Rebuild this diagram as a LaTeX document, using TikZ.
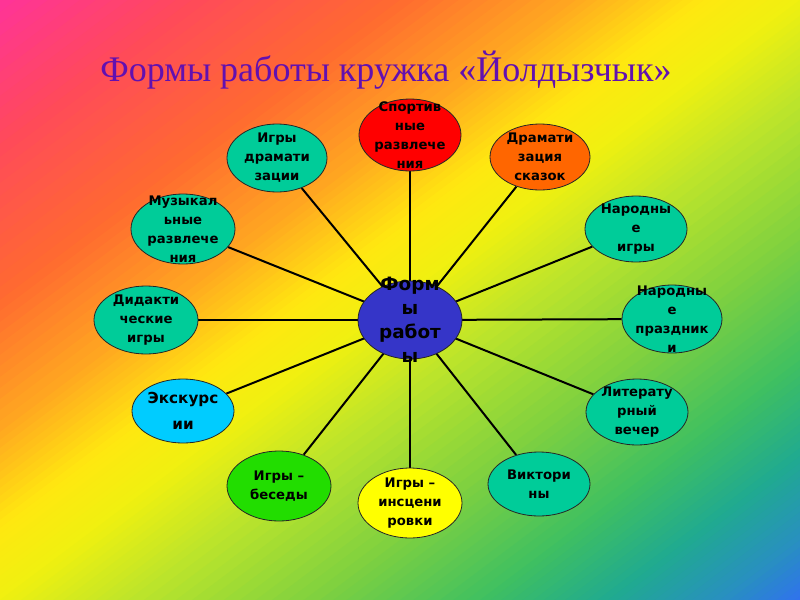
\documentclass[tikz,border=0pt]{standalone}
\usepackage{fontspec}
\setmainfont{Liberation Serif}
\newfontfamily\dv{DejaVu Sans}
\usetikzlibrary{shapes.geometric}
\pgfdeclarelayer{bg}
\pgfdeclarelayer{spokes}
\pgfsetlayers{bg,spokes,main}
\definecolor{g0}{HTML}{FF3399}
\definecolor{g1}{HTML}{FF4A5A}
\definecolor{g2}{HTML}{FF6A30}
\definecolor{g3}{HTML}{FFA820}
\definecolor{g4}{HTML}{FFE810}
\definecolor{g5}{HTML}{F0F010}
\definecolor{g6}{HTML}{BEE52A}
\definecolor{g7}{HTML}{7DD040}
\definecolor{g8}{HTML}{40C060}
\definecolor{g9}{HTML}{20AA90}
\definecolor{g10}{HTML}{2890C0}
\definecolor{g11}{HTML}{3366FF}
\definecolor{cteal}{HTML}{00CC99}
\definecolor{cred}{HTML}{FF0000}
\definecolor{corange}{HTML}{FF6600}
\definecolor{ccyan}{HTML}{00CCFF}
\definecolor{cgreen}{HTML}{22DD00}
\definecolor{cyellow}{HTML}{FFFF00}
\definecolor{cblue}{HTML}{3535C8}
\definecolor{ctitle}{HTML}{6210B0}
\tikzset{
  oval/.style={ellipse, draw=black!85, line width=0.6pt, inner sep=0pt},
  sz/.style 2 args={minimum width=#1*0.75pt, minimum height=#2*0.75pt},
  txt/.style={align=center, inner sep=0pt, text=black,
    font=\dv\bfseries\fontsize{9.9pt}{14.25pt}\selectfont},
  bigtxt/.style={align=center, inner sep=0pt, text=black,
    font=\dv\bfseries\fontsize{13.8pt}{18pt}\selectfont},
  midtxt/.style={align=center, inner sep=0pt, text=black,
    font=\dv\bfseries\fontsize{11.4pt}{19.5pt}\selectfont},
  spoke/.style={line width=1.5pt, black},
  titletxt/.style={text=ctitle, inner sep=0pt, font=\fontsize{27pt}{32pt}\selectfont},
}
\begin{document}
\begin{tikzpicture}[x=0.75pt, y=-0.75pt]
\useasboundingbox (0,0) rectangle (800,600);
\begin{pgfonlayer}{bg}
\begin{scope}
\clip (0,0) rectangle (800,600);
\foreach \ta/\tb/\ca/\cb in {0/0.12/g0/g1, 0.12/0.25/g1/g2, 0.25/0.36/g2/g3, 0.36/0.44/g3/g4, 0.44/0.50/g4/g5, 0.50/0.58/g5/g6, 0.58/0.70/g6/g7, 0.70/0.80/g7/g8, 0.80/0.88/g8/g9, 0.88/0.95/g9/g10, 0.95/1.02/g10/g11}{
  \foreach \k in {0,...,11}{
    \pgfmathsetmacro\pa{1600*(\ta+(\tb-\ta)*\k/12)}
    \pgfmathsetmacro\pb{1600*(\ta+(\tb-\ta)*(\k+1.4)/12)}
    \pgfmathtruncatemacro\mix{100-(\k+0.5)*100/12}
    \fill[\ca!\mix!\cb] (\pa-1600,1200) -- (\pa+1600,-1200) -- (\pb+1600,-1200) -- (\pb-1600,1200) -- cycle;
  }
}
\end{scope}
\end{pgfonlayer}

\node[titletxt, anchor=base] (title) at (386,81) {Формы работы кружка «Йолдызчык»};

\node[oval, sz={104}{78}, fill=cblue] (c) at (410,320) {};
\node[bigtxt] (ct) at (c) {Форм\\ы\\работ\\ы};

\node[oval, sz={102}{72}, fill=cred] (n1) at (410,135) {};
\node[txt] (t1) at (n1) {Спортив\\ные\\развлече\\ния};
\node[oval, sz={100}{68}, fill=cteal] (n2) at (277,158) {};
\node[txt] (t2) at (n2) {Игры\\драмати\\зации};
\node[oval, sz={100}{66}, fill=corange] (n3) at (540,157) {};
\node[txt] (t3) at (n3) {Драмати\\зация\\сказок};
\node[oval, sz={104}{70}, fill=cteal] (n4) at (183,229) {};
\node[txt] (t4) at (n4) {Музыкал\\ьные\\развлече\\ния};
\node[oval, sz={102}{66}, fill=cteal] (n5) at (636,229) {};
\node[txt] (t5) at (n5) {Народны\\е\\игры};
\node[oval, sz={104}{68}, fill=cteal] (n6) at (146,320) {};
\node[txt] (t6) at (n6) {Дидакти\\ческие\\игры};
\node[oval, sz={100}{68}, fill=cteal] (n7) at (672,319) {};
\node[txt] (t7) at (n7) {Народны\\е\\праздник\\и};
\node[oval, sz={102}{64}, fill=ccyan] (n8) at (183,411) {};
\node[midtxt] (t8) at (n8) {Экскурс\\ии};
\node[oval, sz={102}{66}, fill=cteal] (n9) at (637,412) {};
\node[txt] (t9) at (n9) {Литерату\\рный\\вечер};
\node[oval, sz={104}{70}, fill=cgreen] (n10) at (279,486) {};
\node[txt] (t10) at (n10) {Игры –\\беседы};
\node[oval, sz={104}{70}, fill=cyellow] (n11) at (410,503) {};
\node[txt] (t11) at (n11) {Игры –\\инсцени\\ровки};
\node[oval, sz={102}{64}, fill=cteal] (n12) at (539,484) {};
\node[txt] (t12) at (n12) {Виктори\\ны};

\begin{pgfonlayer}{spokes}
\foreach \n in {n1,n2,n3,n4,n5,n6,n7,n8,n9,n10,n11,n12}{
  \draw[spoke] (c.center) -- (\n);
}
\end{pgfonlayer}
\end{tikzpicture}
\end{document}
